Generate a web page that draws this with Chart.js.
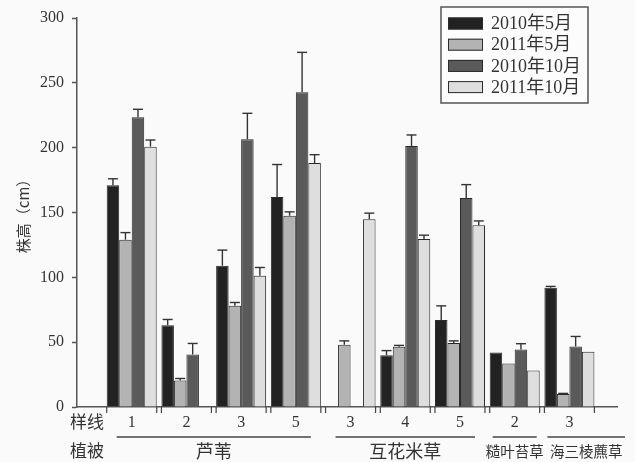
<!DOCTYPE html>
<html><head><meta charset="utf-8">
<script src="https://cdn.jsdelivr.net/npm/chart.js@4"></script>
<style>html,body{margin:0;padding:0;background:#fafafa}#wrap{width:635px;height:462px}</style>
</head><body><div id="wrap"><canvas id="c" width="635" height="462"></canvas></div>
<script>
// 样线 (transect) labels for each bar group
const transects = ['1','2','3','5','3','4','5','2','3'];
// 植被 (vegetation) names and how many transect groups each covers
const vegetation = ['芦苇','互花米草','糙叶苔草','海三棱藨草'];
const vegetationSpan = [4,3,1,1];
const seriesNames = ['2010年5月','2011年5月','2010年10月','2011年10月'];
const yTicks = [0,50,100,150,200,250,300];

// mean plant height (cm)
const may2010 = [171, 63, 109, 162, null, 40, 67, 42, 92];
const may2011 = [129, 20.5, 78, 147.5, 48, 46.5, 49.3, 33.6, 10];
const oct2010 = [223.4, 40.5, 206.5, 242.7, null, 201.3, 161.2, 44.4, 46.7];
const oct2011 = [200.8, null, 101.2, 188.2, 144.8, 129.5, 140.2, 28.2, 42.6];
// upper end of error bars (cm)
const may2010Err = [176, 67.5, 121, 187, null, 43.5, 78, null, 93];
const may2011Err = [134.5, 22, 80.6, 150.5, 51, 47.5, 51, null, 10.5];
const oct2010Err = [229.6, 49, 226.5, 273.5, null, 209.8, 171.5, 48.8, 54.4];
const oct2011Err = [205.9, null, 107.6, 194.6, 149.5, 132.5, 143.5, null, null];

const colors = ['#222222','#b3b3b3','#5a5a5a','#dedede'];
const serif = '"Liberation Serif", "Noto Sans CJK SC", serif';
const cjk = '"Noto Sans CJK SC", sans-serif';

function toPts(arr){ return arr.map((v,i)=>({x:i+1, y:v})); }
const seriesVals = [may2010, may2011, oct2010, oct2011];
const seriesErr = [may2010Err, may2011Err, oct2010Err, oct2011Err];

const datasets = seriesVals.map((vals,i)=>({
  label: seriesNames[i],
  data: toPts(vals),
  errTop: seriesErr[i],
  backgroundColor: colors[i],
  borderColor: '#2a2a2a',
  borderWidth: 1,
  categoryPercentage: 0.914,
  barPercentage: 1.0
}));

function line(ctx,x0,y0,x1,y1){ctx.beginPath();ctx.moveTo(x0,y0);ctx.lineTo(x1,y1);ctx.stroke();}

const annot = {
  id: 'annot',
  beforeDraw(chart){
    const ctx = chart.ctx;
    ctx.save(); ctx.fillStyle = '#fafafa'; ctx.fillRect(0,0,chart.width,chart.height); ctx.restore();
  },
  afterDatasetsDraw(chart){
    const ctx = chart.ctx, ys = chart.scales.y;
    ctx.save();
    ctx.strokeStyle = '#333'; ctx.lineWidth = 1.4;
    chart.data.datasets.forEach((ds,i)=>{
      const meta = chart.getDatasetMeta(i);
      ds.errTop.forEach((t,j)=>{
        const v = ds.data[j].y;
        if (t == null || v == null) return;
        const el = meta.data[j];
        const y0 = ys.getPixelForValue(v), y1 = ys.getPixelForValue(t);
        const hw = el.width*0.4;
        line(ctx, el.x, y0, el.x, y1);
        line(ctx, el.x-hw, y1, el.x+hw, y1);
      });
    });
    ctx.restore();
  },
  afterDraw(chart){
    const ctx = chart.ctx, area = chart.chartArea;
    const m0 = chart.getDatasetMeta(0), m3 = chart.getDatasetMeta(3);
    const lefts = [], rights = [];
    for (let j=0;j<transects.length;j++){
      const a = m0.data[j], b = m3.data[j];
      lefts.push(a.x - a.width/2); rights.push(b.x + b.width/2);
    }
    ctx.save();
    ctx.strokeStyle = '#444'; ctx.lineWidth = 1.2;
    // group separator ticks
    for (let j=0;j<transects.length;j++){
      line(ctx, lefts[j], area.bottom, lefts[j], area.bottom+6);
      line(ctx, rights[j], area.bottom, rights[j], area.bottom+6);
    }
    ctx.fillStyle = '#333';
    ctx.textBaseline = 'middle';
    ctx.textAlign = 'left';
    ctx.font = '17px ' + cjk;
    ctx.fillText('样线', 70, area.bottom + 15);
    ctx.fillText('植被', 70, area.bottom + 44);
    // vegetation lines and names
    let start = 0;
    vegetation.forEach((name,k)=>{
      const end = start + vegetationSpan[k] - 1;
      const inset = vegetationSpan[k] > 1 ? 10 : 3;
      let l = lefts[start] + inset, r = rights[end] - inset;
      if (k === vegetation.length-1) r = area.right + 8;
      ctx.lineWidth = 1.3;
      line(ctx, l, area.bottom+30, r, area.bottom+30);
      ctx.textAlign = 'center';
      ctx.font = (vegetationSpan[k] > 1 ? '18px ' : '14.5px ') + cjk;
      ctx.fillText(name, (l+r)/2, area.bottom+44);
      start = end + 1;
    });
    // legend
    const bx = area.right - 176, by = 7, bw = 147, bh = 96;
    ctx.fillStyle = '#fcfcfc';
    ctx.fillRect(bx, by, bw, bh);
    ctx.strokeStyle = '#555'; ctx.lineWidth = 1.5;
    ctx.strokeRect(bx, by, bw, bh);
    chart.data.datasets.forEach((ds,i)=>{
      const cy = by + 16.5 + i*21.2;
      ctx.fillStyle = ds.backgroundColor;
      ctx.fillRect(bx+7, cy-6, 35, 12);
      ctx.strokeStyle = '#2a2a2a'; ctx.lineWidth = 1;
      ctx.strokeRect(bx+7.5, cy-5.5, 34, 11);
      ctx.fillStyle = '#333';
      ctx.textAlign = 'left';
      ctx.font = '18px ' + serif;
      ctx.fillText(ds.label, bx+50, cy+1);
    });
    ctx.restore();
  }
};

new Chart(document.getElementById('c'), {
  type: 'bar',
  data: { datasets },
  options: {
    responsive: false,
    devicePixelRatio: 1,
    animation: false,
    layout: { padding: { top: 18, right: 18, left: 0, bottom: 0 } },
    plugins: { legend: { display: false }, tooltip: { enabled: false } },
    scales: {
      x: {
        type: 'linear',
        min: 0, max: 9.87,
        offset: false,
        afterBuildTicks(scale){ scale.ticks = transects.map((t,i)=>({value:i+1})); },
        afterFit(scale){ scale.height = 55; },
        grid: { display: true, drawOnChartArea: false, drawTicks: false },
        border: { display: true, color: '#555', width: 1.5 },
        ticks: {
          autoSkip: false, maxRotation: 0, padding: 6,
          color: '#333', font: { family: serif, size: 16 },
          callback: (v)=> transects[v-1] ?? ''
        }
      },
      y: {
        min: 0, max: 300,
        afterBuildTicks(scale){ scale.ticks = yTicks.map(v=>({value:v})); },
        afterFit(scale){ scale.width = 77; },
        grid: { drawOnChartArea: false, drawTicks: true, tickLength: 5, color: '#555', tickWidth: 1.5 },
        border: { display: true, color: '#555', width: 1.5 },
        ticks: { padding: 8, color: '#333', font: { family: serif, size: 16 } },
        title: { display: true, text: '株高（cm）', color: '#333', font: { family: cjk, size: 15 }, padding: { top: 14, bottom: 0 } }
      }
    }
  },
  plugins: [annot]
});
</script>
</body></html>
